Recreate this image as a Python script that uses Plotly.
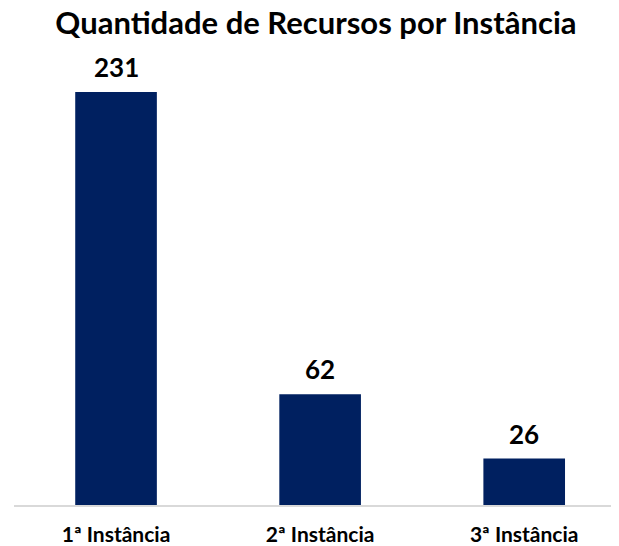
import plotly.graph_objects as go

categories = ["1ª Instância", "2ª Instância", "3ª Instância"]
values = [231, 62, 26]

fig = go.Figure(go.Bar(
    x=categories, y=values,
    marker=dict(color="#002060", line=dict(width=0)),
    width=0.40,
    hoverinfo="x+y",
))

for c, v in zip(categories, values):
    fig.add_annotation(x=c, y=v, text=f"<b>{v}</b>", showarrow=False,
                       xanchor="center", yanchor="bottom", yshift=7,
                       font=dict(family="Lato", size=26, color="#000000"))

fig.update_layout(
    width=611, height=538,
    margin=dict(l=6, r=5, t=50, b=41, autoexpand=False),
    paper_bgcolor="white", plot_bgcolor="white",
    title=dict(text="<b>Quantidade de Recursos por Instância</b>",
               x=0.504, xanchor="center", y=0.971, yanchor="middle",
               font=dict(family="Lato", size=31, color="#000000")),
    font=dict(family="Lato"),
    showlegend=False,
)
fig.update_xaxes(range=[-0.5, 2.44], showline=True, linecolor="#D9D9D9", linewidth=1.5,
                 ticks="", ticklabelstandoff=10,
                 tickfont=dict(family="Lato", size=21, color="#000000", weight="bold"),
                 showgrid=False, automargin=False)
fig.update_yaxes(range=[0, 250], visible=False, showgrid=False, automargin=False)

fig.write_html("out.html")
